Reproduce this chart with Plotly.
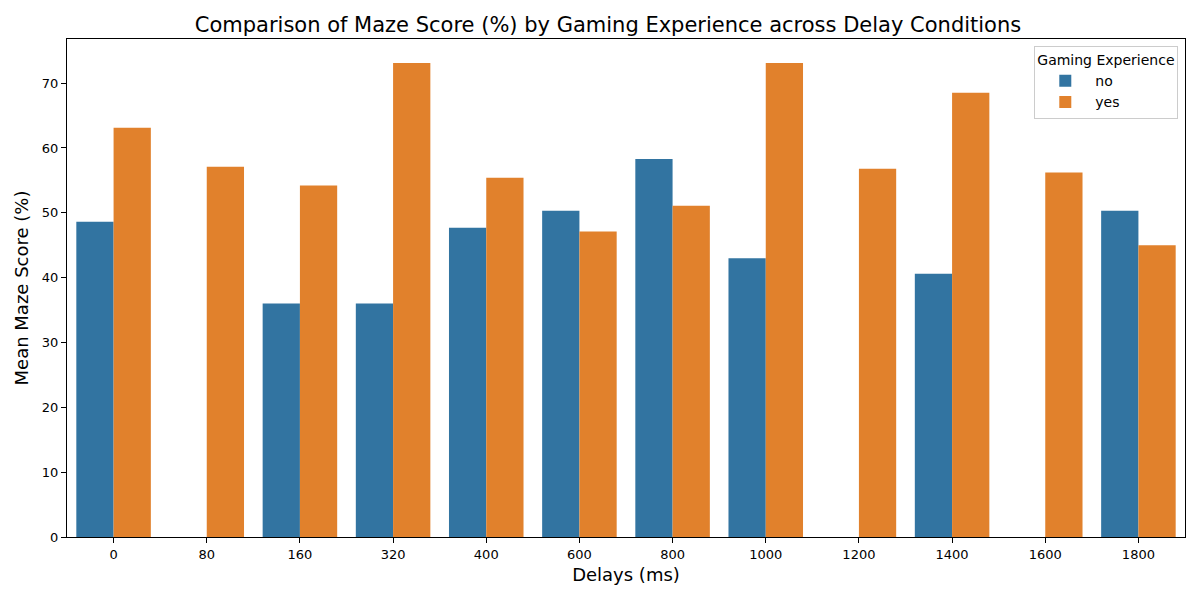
import plotly.graph_objects as go

# mean maze score per delay, split by gaming experience
delays = ["0", "80", "160", "320", "400", "600", "800", "1000", "1200", "1400", "1600", "1800"]
score_no = [48.6, None, 36.0, 36.0, 47.7, 50.3, 58.3, 43.0, None, 40.6, None, 50.3]
score_yes = [63.1, 57.1, 54.2, 73.1, 55.4, 47.1, 51.1, 73.1, 56.8, 68.5, 56.2, 45.0]

fig = go.Figure()
fig.add_trace(go.Bar(x=delays, y=score_no, name="no", marker=dict(color="#3274a1", line=dict(width=0))))
fig.add_trace(go.Bar(x=delays, y=score_yes, name="yes", marker=dict(color="#e1812c", line=dict(width=0))))

# margins allow for the 8px page offset of the browser
fig.update_layout(
    width=1200, height=600,
    font=dict(family="DejaVu Sans", color="black", size=13),
    title=dict(text="Comparison of Maze Score (%) by Gaming Experience across Delay Conditions",
               x=0.5, xanchor="center", y=0.973, yanchor="middle", font=dict(size=21)),
    margin=dict(l=59, r=23, t=31, b=71, autoexpand=False),
    plot_bgcolor="white", paper_bgcolor="white",
    barmode="group", bargap=0.2, bargroupgap=0,
    legend=dict(title=dict(text="Gaming Experience", side="top", font=dict(size=14)),
                x=0.994, y=0.986, xanchor="right", yanchor="top",
                bordercolor="#cccccc", borderwidth=1, bgcolor="rgba(255,255,255,0.8)",
                font=dict(size=14), itemwidth=50),
)
fig.update_xaxes(type="category", range=[-0.5, 11.5], showline=True, linecolor="black", mirror=True,
                 linewidth=1, ticks="outside", ticklen=5, tickcolor="black", showgrid=False,
                 automargin=False, tickfont=dict(size=13),
                 title=dict(text="Delays (ms)", font=dict(size=18), standoff=7))
fig.update_yaxes(range=[0, 76.8], showline=True, linecolor="black", mirror=True, dtick=10,
                 linewidth=1, ticks="outside", ticklen=5, tickcolor="black", showgrid=False,
                 zeroline=False, automargin=False, tickfont=dict(size=13),
                 title=dict(text="Mean Maze Score (%)", font=dict(size=18), standoff=8))

fig.write_html("out.html")
